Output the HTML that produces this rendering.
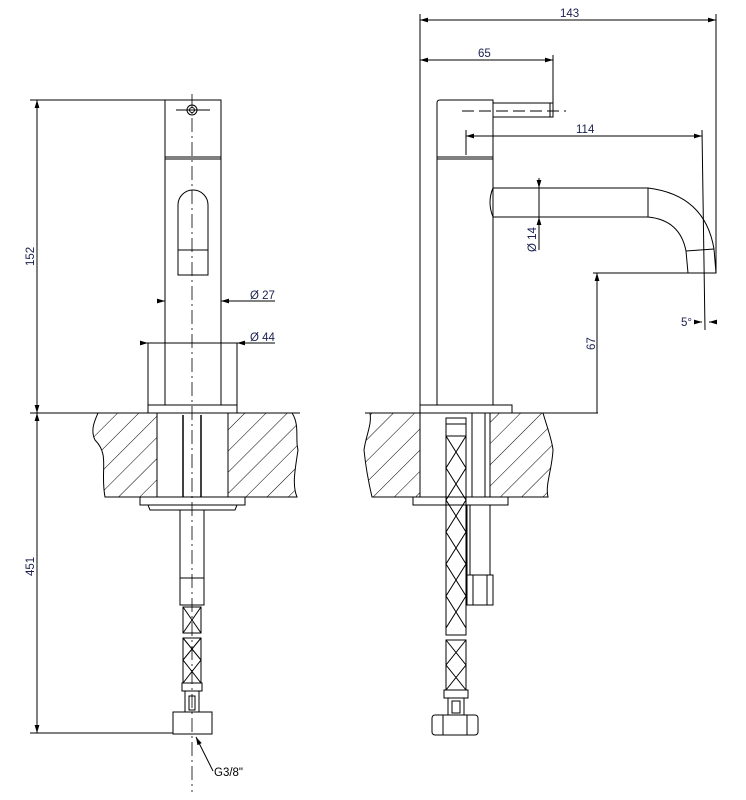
<!DOCTYPE html>
<html><head><meta charset="utf-8"><style>
html,body{margin:0;padding:0;background:#fff}
svg{display:block}
text{font-family:"Liberation Sans",sans-serif;font-size:11.5px;fill:#1a2050}
</style></head><body>
<svg width="746" height="800" viewBox="0 0 746 800" xmlns="http://www.w3.org/2000/svg">
<defs>
<pattern id="h" patternUnits="userSpaceOnUse" width="15" height="15" patternTransform="rotate(45)">
<line x1="0" y1="0" x2="0" y2="15" stroke="#000" stroke-width="1"/>
</pattern>
<marker id="a" viewBox="0 0 10 6" refX="10" refY="3" markerWidth="8" markerHeight="5" orient="auto-start-reverse"><path d="M0,0L10,3L0,6z" fill="#000"/></marker>
</defs>
<g fill="none" stroke="#000" stroke-width="1">
<!-- LEFT VIEW -->
<line x1="192" y1="94" x2="192" y2="792" stroke-dasharray="14,4,2,4" stroke-width="0.8"/>
<rect x="165" y="100" width="56" height="305"/>
<line x1="165" y1="157" x2="221" y2="157"/><line x1="165" y1="159" x2="221" y2="159"/>
<circle cx="192" cy="110" r="5"/><circle cx="192" cy="110" r="2.5"/>
<line x1="176" y1="110" x2="210" y2="110"/>
<path d="M178,275 V205 A15,15 0 0 1 208,205 V275 Z"/>
<line x1="178" y1="250" x2="208" y2="250"/>
<line x1="158" y1="301" x2="165" y2="301" marker-end="url(#a)"/>
<line x1="221" y1="301" x2="275" y2="301"/><line x1="228" y1="301" x2="221" y2="301" marker-end="url(#a)"/>
<line x1="146" y1="343" x2="275" y2="343"/>
<line x1="140" y1="343" x2="148" y2="343" marker-end="url(#a)"/>
<line x1="245" y1="343" x2="237" y2="343" marker-end="url(#a)"/>
<line x1="148" y1="343" x2="148" y2="405"/><line x1="237" y1="343" x2="237" y2="405"/>
<rect x="148" y="405" width="89" height="8"/>
<line x1="30" y1="413" x2="300" y2="413"/>
<path d="M98,413 H157 V497 H105 C100,470 110,455 95,440 C90,430 95,420 98,413Z" fill="url(#h)"/>
<path d="M228,413 H292 C300,425 295,440 298,450 C295,470 292,485 297,497 H228Z" fill="url(#h)"/>
<line x1="183" y1="415" x2="183" y2="497" stroke-width="1.5"/><line x1="201" y1="415" x2="201" y2="497" stroke-width="1.5"/>
<rect x="140" y="497" width="105" height="8"/>
<path d="M148,505 L150,510 H235 L237,505"/>
<rect x="180" y="510" width="24" height="68"/>
<rect x="180" y="578" width="24" height="27"/>
<rect x="183" y="607" width="18" height="26"/>
<path d="M183,607 L201,633 M201,607 L183,633"/>
<rect x="183" y="638" width="18" height="45"/>
<path d="M183,638 L201,660 L183,683 M201,638 L183,660 L201,683"/>
<rect x="182" y="683" width="20" height="8"/>
<rect x="185" y="691" width="14" height="21"/><rect x="189" y="696" width="6" height="14"/>
<rect x="173" y="712" width="39" height="22"/>
<line x1="37" y1="100" x2="37" y2="413" marker-start="url(#a)" marker-end="url(#a)"/>
<line x1="30" y1="100" x2="165" y2="100"/>
<line x1="37" y1="413" x2="37" y2="733" marker-start="url(#a)" marker-end="url(#a)"/>
<line x1="30" y1="733" x2="173" y2="733"/>
<path d="M213,771 L196,737" marker-end="url(#a)"/>
<!-- RIGHT VIEW -->
<line x1="420" y1="14" x2="420" y2="405"/>
<line x1="716" y1="14" x2="716" y2="273"/>
<line x1="420" y1="20" x2="716" y2="20" marker-start="url(#a)" marker-end="url(#a)"/>
<line x1="553" y1="55" x2="553" y2="110"/>
<line x1="420" y1="60" x2="553" y2="60" marker-start="url(#a)" marker-end="url(#a)"/>
<path d="M437,405 V103 Q437,100 440,100 H493 V405"/>
<line x1="437" y1="157" x2="493" y2="157"/><line x1="437" y1="159" x2="493" y2="159"/>
<path d="M493,103 H553 V117 H493"/>
<line x1="550" y1="103" x2="550" y2="117"/>
<line x1="462" y1="111" x2="566" y2="111" stroke-dasharray="12,5"/>
<line x1="466" y1="130" x2="466" y2="155"/>
<line x1="466" y1="136" x2="702" y2="136" marker-start="url(#a)" marker-end="url(#a)"/>
<line x1="702" y1="130" x2="705" y2="330"/>
<path d="M493,188 H648 Q705,195 714,249 L716,273 H688 L686,251 Q680,220 648,217 H493 Q487,202 493,188Z"/>
<line x1="648" y1="188" x2="648" y2="217"/>
<line x1="686" y1="251" x2="714" y2="249"/>
<line x1="539" y1="178" x2="539" y2="188" marker-end="url(#a)"/>
<line x1="539" y1="188" x2="539" y2="250"/>
<line x1="539" y1="230" x2="539" y2="217" marker-end="url(#a)"/>
<line x1="593" y1="273" x2="688" y2="273"/>
<line x1="597" y1="413" x2="597" y2="273" marker-end="url(#a)"/>
<line x1="696" y1="322" x2="702" y2="322" marker-end="url(#a)"/>
<line x1="716" y1="322" x2="709" y2="322" marker-end="url(#a)"/>
<rect x="420" y="405" width="92" height="8"/>
<line x1="365" y1="413" x2="598" y2="413"/>
<path d="M370,413 H420 V497 H372 C368,480 365,460 364,450 C366,435 372,425 370,413Z" fill="url(#h)"/>
<path d="M490,413 H543 C548,430 552,440 553,450 C552,470 545,485 548,497 H490Z" fill="url(#h)"/>
<line x1="472" y1="413" x2="472" y2="497"/><line x1="485" y1="413" x2="485" y2="497"/>
<rect x="413" y="497" width="95" height="8"/>
<rect x="446" y="418" width="20" height="6"/>
<rect x="446" y="424" width="20" height="12"/>
<rect x="446" y="436" width="20" height="199"/>
<path d="M446,436 L466,468 L446,500 L466,532 L446,564 L466,596 L446,628 M466,436 L446,468 L466,500 L446,532 L466,564 L446,596 L466,628"/>
<rect x="446" y="640" width="20" height="50"/>
<path d="M446,640 L466,665 L446,690 M466,640 L446,665 L466,690"/>
<rect x="444" y="690" width="24" height="8"/>
<rect x="448" y="698" width="16" height="17"/><rect x="452" y="701" width="8" height="12"/>
<rect x="432" y="715" width="46" height="20" rx="3"/>
<line x1="443" y1="715" x2="443" y2="735"/><line x1="467" y1="715" x2="467" y2="735"/>
<path d="M467,505 V575 H490 V505"/>
<line x1="470" y1="505" x2="470" y2="575"/>
<rect x="467" y="575" width="26" height="30"/>
<line x1="473" y1="575" x2="473" y2="605"/><line x1="487" y1="575" x2="487" y2="605"/>
</g>
<text x="250" y="299">Ø 27</text>
<text x="250" y="341">Ø 44</text>
<text transform="translate(34,266) rotate(-90)">152</text>
<text transform="translate(34,576) rotate(-90)">451</text>
<text x="214" y="776" style="fill:#000">G3/8"</text>
<text x="560" y="17">143</text>
<text x="478" y="57">65</text>
<text x="576" y="133">114</text>
<text transform="translate(536,252) rotate(-90)">Ø 14</text>
<text transform="translate(595,350) rotate(-90)">67</text>
<text x="681" y="326">5°</text>
</svg>
</body></html>
